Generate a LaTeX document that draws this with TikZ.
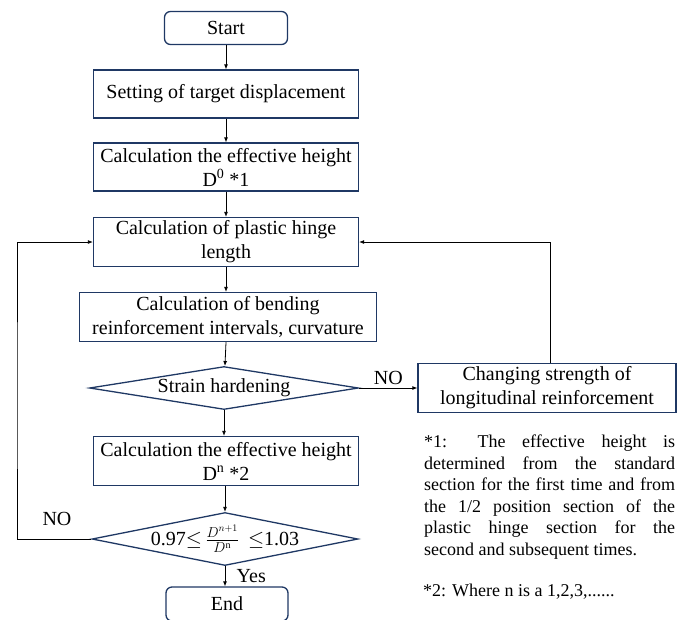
\documentclass[tikz,border=0pt]{standalone}
\usepackage{fontspec}
\setmainfont{Liberation Serif}
\usetikzlibrary{shapes.geometric}
\usetikzlibrary{arrows.meta}
\definecolor{boxblue}{HTML}{1F3864}

\begin{document}
\begin{tikzpicture}[x=1pt,y=-1pt,>={Latex[length=5pt,width=4pt]},
    procbox/.style={draw=boxblue, line width=1.3pt, rectangle, align=center, inner sep=0pt,
      font=\fontsize{20}{24}\selectfont},
    termbox/.style={procbox, rounded corners=6pt},
    decision/.style={draw=boxblue, line width=1.3pt, diamond, inner sep=0pt},
    every label/.style={font=\fontsize{20}{24}\selectfont}]
            \useasboundingbox (0,0) rectangle (677,619);
            % Main flow
            \node[termbox, minimum width=123, minimum height=33] (start) at (226,28) {Start};
            \node[procbox, minimum width=265, minimum height=48] (target) at (226,94) {Setting of target displacement};
            \node[procbox, minimum width=265, minimum height=48] (height0) at (226,167) {Calculation the effective height\\D\textsuperscript{0} *1};
            \node[procbox, minimum width=265, minimum height=49] (hinge) at (226,242) {Calculation of plastic hinge\\length};
            \node[procbox, minimum width=297, minimum height=49] (bending) at (228,317) {Calculation of bending\\reinforcement intervals, curvature};
            \node[decision, minimum width=269, minimum height=43,
              label=center:{Strain hardening}] (strain) at (224,388) {};
            \node[procbox, minimum width=265, minimum height=49] (heightn) at (226,461) {Calculation the effective height\\D\textsuperscript{n} *2};
            \node[decision, minimum width=266, minimum height=53,
              label=center:{0.97$\leq$\,$\frac{D^{n+1}}{D^{\mathrm{n}}}$\;\,$\leq$1.03}] (check) at (225,539) {};
            \node[termbox, minimum width=122, minimum height=34] (finish) at (227,604) {End};
            \node[procbox, minimum width=258, minimum height=49] (change) at (547,388) {Changing strength of\\longitudinal reinforcement};
            
            \draw[->,thick] (start) -- (target);
            \draw[->,thick] (target) -- (height0);
            \draw[->,thick] (height0) -- (hinge);
            \draw[->,thick] (hinge) -- (bending.north -| hinge);
            \draw[->,thick] (bending.south -| hinge) -- (strain);
            \draw[->,thick] (strain) -- (heightn.north -| strain);
            \draw[->,thick] (heightn.south -| check) -- (check);
            \draw[->,thick] (check) -- node[right=8pt, font=\fontsize{20}{24}\selectfont] (yes) {Yes} (finish.north -| check);
            \draw[->,thick] (strain) -- node[above, font=\fontsize{20}{24}\selectfont] (no1) {NO} (change);
            \draw[->,thick] (change.north -| 550,0) |- (hinge);
            \draw[->,thick] (check) -| (17,400) |- (hinge);
            \node[font=\fontsize{20}{24}\selectfont] (no2) at (57,519) {NO};
            
            % Notes
            \node[anchor=north west, text width=251, align=justify, inner sep=0pt,
              font=\fontsize{18}{21.5}\selectfont] (note1) at (424,435)
              {*1: The effective height is\linebreak determined from the standard\linebreak section for the first time and from\linebreak the 1/2 position section of the\linebreak plastic hinge section for the\linebreak second and subsequent times.};
            \node[anchor=base west, inner sep=0pt, font=\fontsize{18}{21.5}\selectfont] (note2) at (423,596) {*2: Where n is a 1,2,3,......};
        \end{tikzpicture}
\end{document}
